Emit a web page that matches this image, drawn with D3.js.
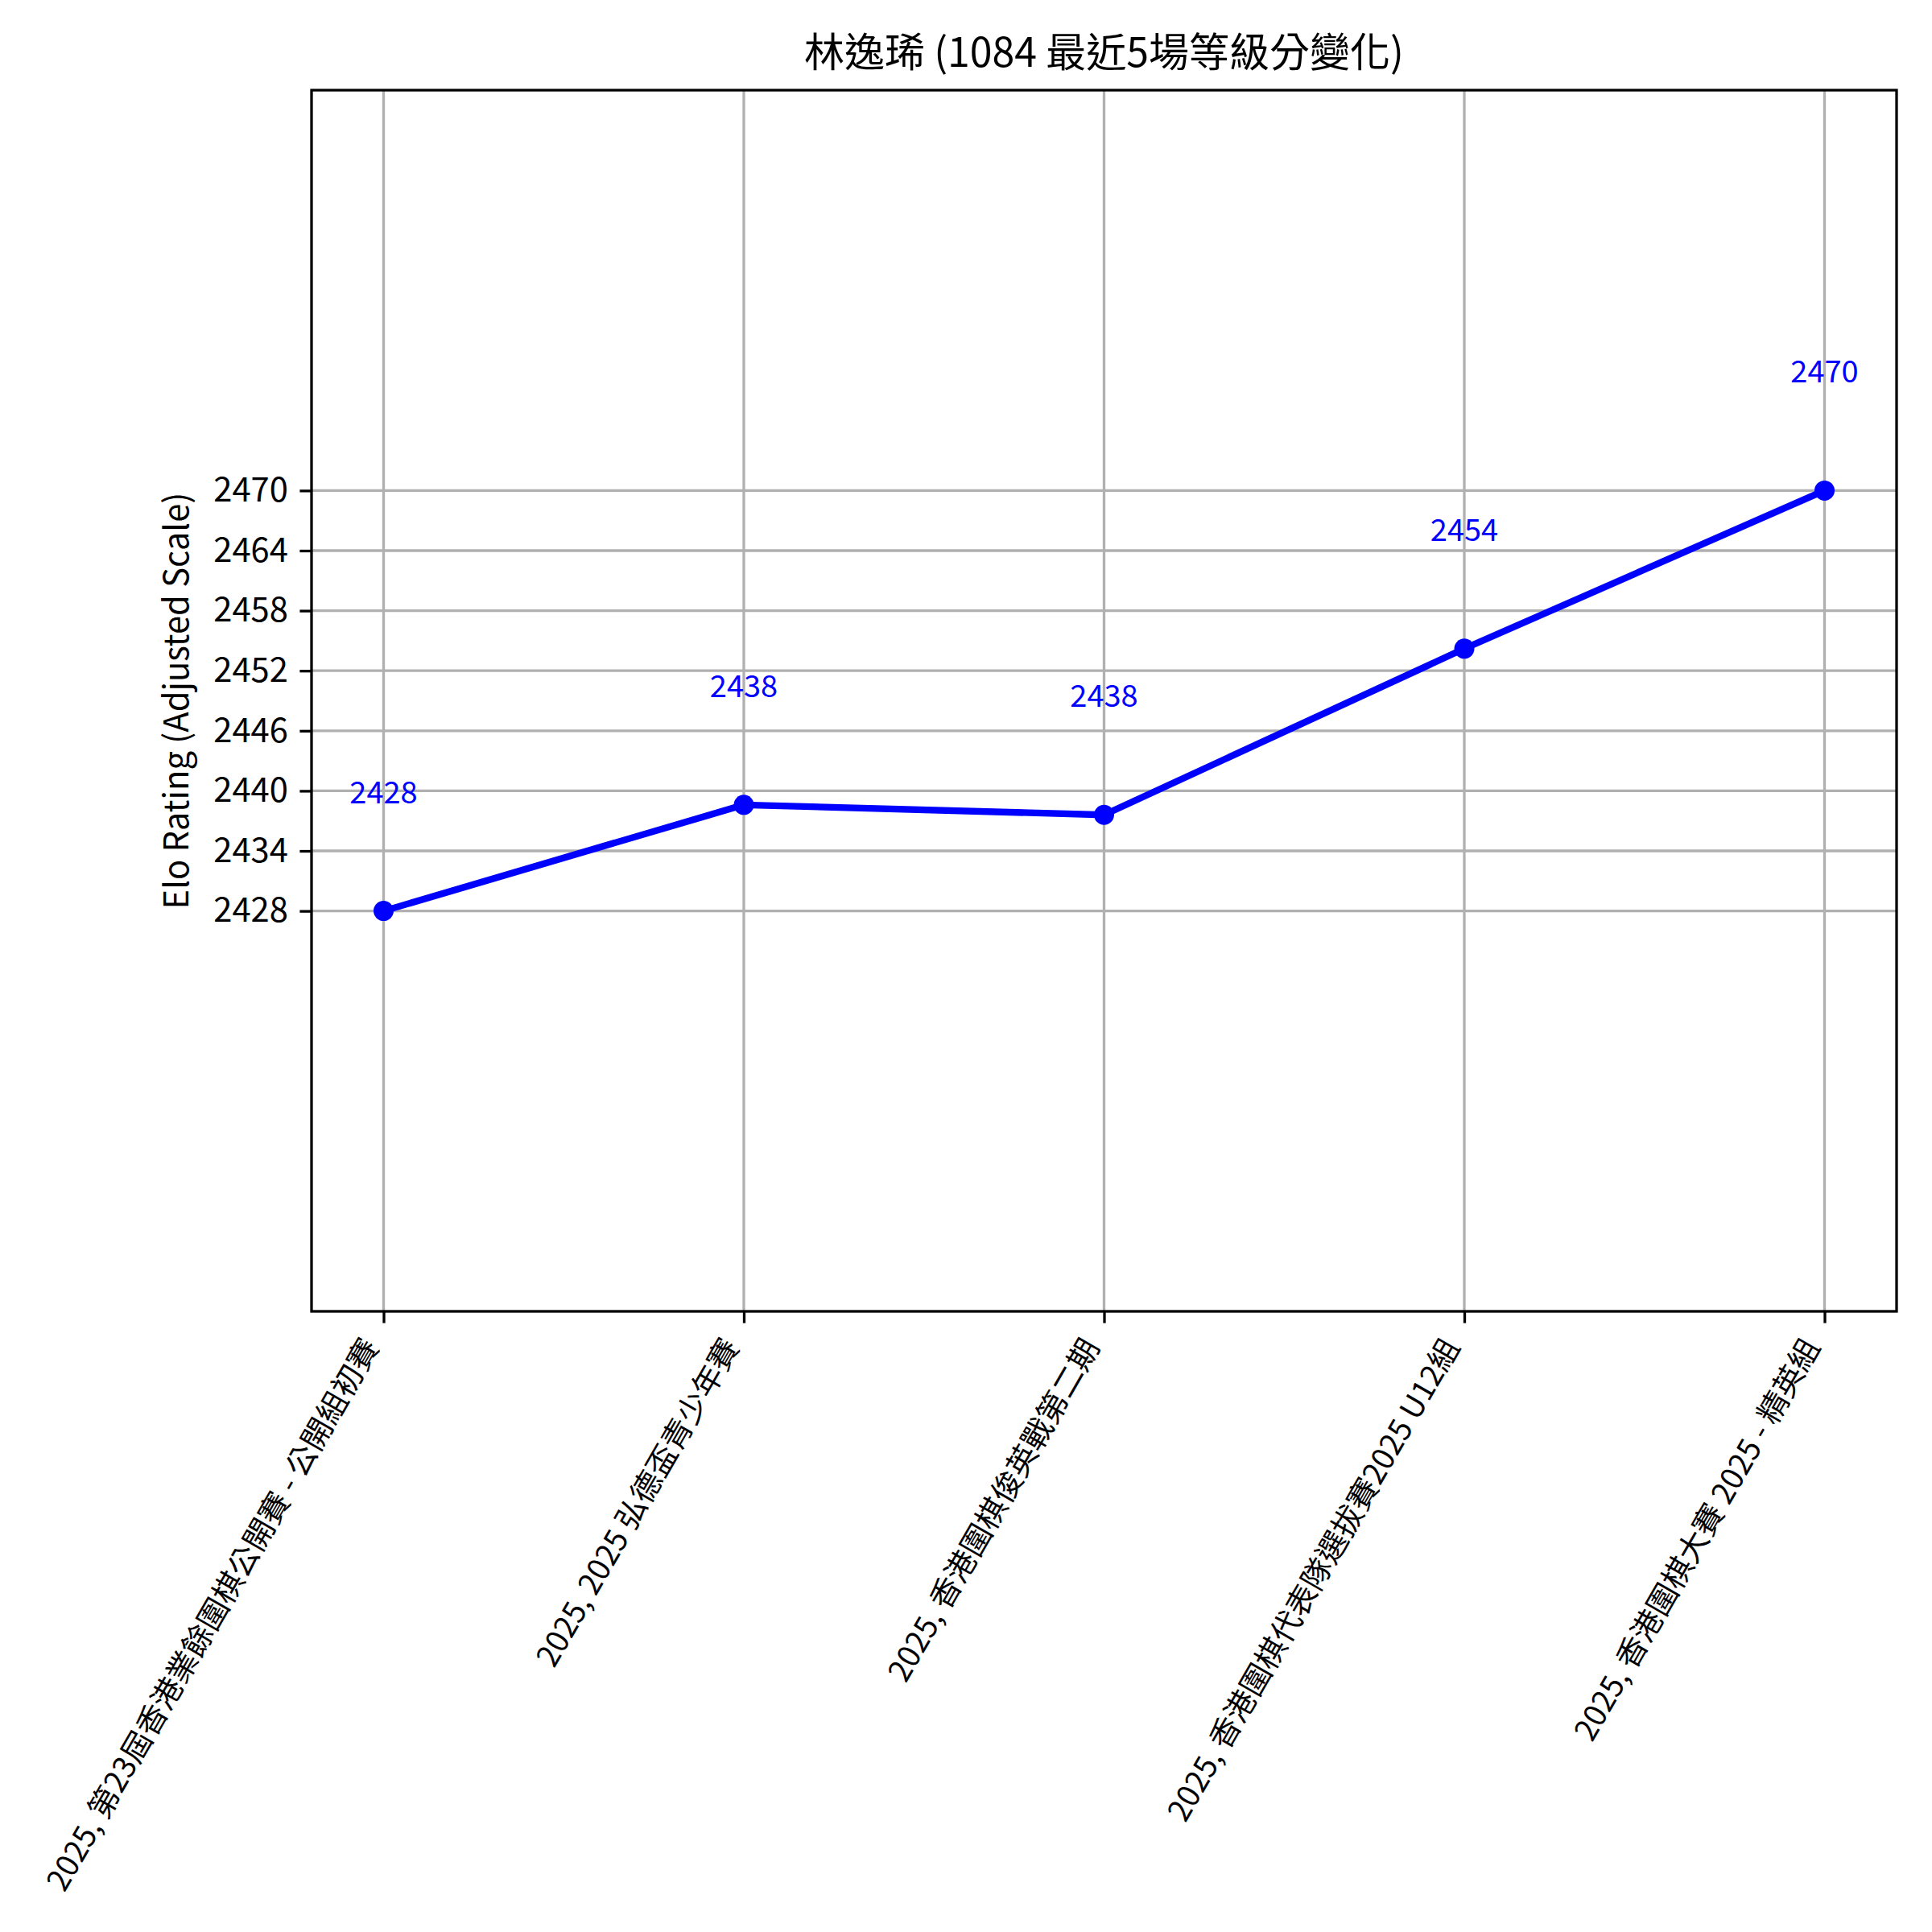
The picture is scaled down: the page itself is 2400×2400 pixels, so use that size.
<!DOCTYPE html>
<html>
<head>
<meta charset="utf-8">
<script src="https://cdn.jsdelivr.net/npm/d3@7"></script>
<style>
  html, body { margin: 0; padding: 0; background: #fff; }
  svg { display: block; }
  text { font-family: "Noto Sans CJK TC", "Noto Sans", sans-serif; }
</style>
</head>
<body>
<script>
// ---- data ----
const categories = [
  "2025, 第23屆香港業餘圍棋公開賽 - 公開組初賽",
  "2025, 2025 弘德盃青少年賽",
  "2025, 香港圍棋俊英戰第二期",
  "2025, 香港圍棋代表隊選拔賽2025 U12組",
  "2025, 香港圍棋大賽 2025 - 精英組"
];
const ratings = [2428, 2438.6, 2437.6, 2454.2, 2470];
const pointLabels = ["2428", "2438", "2438", "2454", "2470"];
const yTicks = [2428, 2434, 2440, 2446, 2452, 2458, 2464, 2470];
const yDomain = [2388, 2510];
const xDomain = [-0.2, 4.2];
const title = "林逸琋 (1084 最近5場等級分變化)";
const yLabel = "Elo Rating (Adjusted Scale)";

// ---- layout ----
const W = 2400, H = 2400;
const plot = { left: 387, right: 2356, top: 112, bottom: 1629 };

const svg = d3.select("body").append("svg")
  .attr("width", W).attr("height", H)
  .attr("viewBox", `0 0 ${W} ${H}`);

svg.append("rect").attr("width", W).attr("height", H).attr("fill", "#fff");

const x = d3.scaleLinear().domain(xDomain).range([plot.left, plot.right]);
const y = d3.scaleLinear().domain(yDomain).range([plot.bottom, plot.top]);

const gridColor = "#b0b0b0";
const gridW = 3.3;

// grid
const grid = svg.append("g");
grid.selectAll("line.gx").data(categories).join("line")
  .attr("x1", (d, i) => x(i)).attr("x2", (d, i) => x(i))
  .attr("y1", plot.top).attr("y2", plot.bottom)
  .attr("stroke", gridColor).attr("stroke-width", gridW);
grid.selectAll("line.gy").data(yTicks).join("line")
  .attr("x1", plot.left).attr("x2", plot.right)
  .attr("y1", d => y(d)).attr("y2", d => y(d))
  .attr("stroke", gridColor).attr("stroke-width", gridW);

// line
const line = d3.line().x((d, i) => x(i)).y(d => y(d));
svg.append("path").datum(ratings)
  .attr("d", line)
  .attr("fill", "none").attr("stroke", "#0000ff")
  .attr("stroke-width", 8.3).attr("stroke-linejoin", "round").attr("stroke-linecap", "butt");

svg.selectAll("circle.pt").data(ratings).join("circle")
  .attr("cx", (d, i) => x(i)).attr("cy", d => y(d)).attr("r", 12.5)
  .attr("fill", "#0000ff");

// value labels
svg.selectAll("text.val").data(ratings).join("text")
  .attr("x", (d, i) => x(i)).attr("y", d => y(d) - 134)
  .attr("text-anchor", "middle").attr("font-size", 38).attr("fill", "#0000ff")
  .text((d, i) => pointLabels[i]);

// frame
svg.append("rect")
  .attr("x", plot.left).attr("y", plot.top)
  .attr("width", plot.right - plot.left).attr("height", plot.bottom - plot.top)
  .attr("fill", "none").attr("stroke", "#000").attr("stroke-width", 3.3);

// y axis
const yAxis = d3.axisLeft(y).tickValues(yTicks).tickSize(14.6).tickPadding(14.6).tickFormat(d3.format("d"));
const gy = svg.append("g").attr("transform", `translate(${plot.left},0)`).call(yAxis);
gy.select(".domain").remove();
gy.selectAll(".tick line").attr("stroke", "#000").attr("stroke-width", 3.3);
gy.selectAll(".tick text").attr("font-size", 41.7).attr("fill", "#000")
  .attr("font-family", "'Noto Sans CJK TC', sans-serif");

// x axis
const xAxis = d3.axisBottom(x).tickValues(d3.range(categories.length)).tickSize(14.6).tickFormat(i => categories[i]);
const gx = svg.append("g").attr("transform", `translate(0,${plot.bottom})`).call(xAxis);
gx.select(".domain").remove();
gx.selectAll(".tick line").attr("stroke", "#000").attr("stroke-width", 3.3);
gx.selectAll(".tick text")
  .attr("font-size", 38).attr("fill", "#000")
  .attr("font-family", "'Noto Sans CJK TC', sans-serif")
  .attr("text-anchor", "end")
  .attr("dy", null)
  .attr("y", null)
  .attr("transform", "translate(-5,44) rotate(-60)");

// title
svg.append("text")
  .attr("x", (plot.left + plot.right) / 2).attr("y", 83)
  .attr("text-anchor", "middle").attr("font-size", 50).attr("fill", "#000")
  .text(title);

// y label
svg.append("text")
  .attr("transform", `translate(234,${(plot.top + plot.bottom) / 2}) rotate(-90)`)
  .attr("text-anchor", "middle").attr("font-size", 41.7).attr("fill", "#000")
  .text(yLabel);
</script>
</body>
</html>
